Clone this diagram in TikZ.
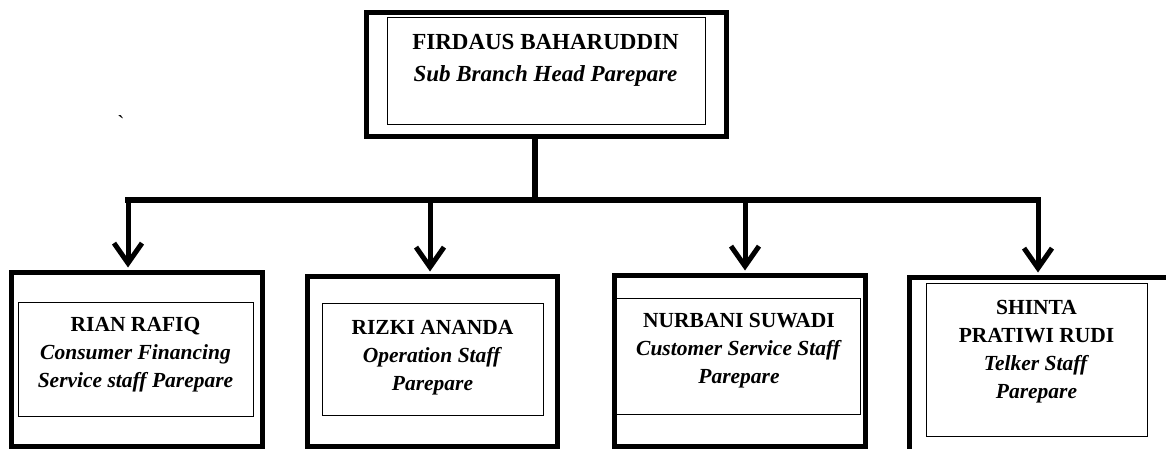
\documentclass[tikz,border=0pt]{standalone}
\usepackage{fontspec}
\setmainfont{Liberation Serif}
\usepackage{tikz}
\usetikzlibrary{arrows.meta}
\tikzset{outer box/.style={draw, line width=5pt, inner sep=0pt}, inner box/.style={draw, line width=1pt, inner sep=0pt}, head text/.style={anchor=north, inner sep=0pt, align=center, font=\fontsize{23}{32}\selectfont\bfseries}, staff text/.style={anchor=north, inner sep=0pt, align=center, font=\fontsize{21.5}{28}\selectfont\bfseries}, link/.style={line width=5.5pt, line cap=rect}, drop/.style={line width=5pt, shorten >=2.5pt, -{Straight Barb[length=20pt, width=28pt, line width=5pt]}}}

\begin{document}
\begin{tikzpicture}[x=1pt,y=-1pt]
\useasboundingbox (0,0) rectangle (1166,449);
\clip (0,0) rectangle (1166,449);
% sub branch head
\node[outer box, minimum width=360pt, minimum height=124pt] (head) at (546.5,74.5) {};
\node[inner box, minimum width=318pt, minimum height=107pt] (headin) at (546,71.5) {};
\node[head text] (headtxt) at (545.5,34.5) {FIRDAUS BAHARUDDIN\\\textit{Sub Branch Head Parepare}};
\node[font=\fontsize{21.5}{28}\selectfont, inner sep=0pt] (tick) at (121,123) {\textasciigrave};
% staff
\node[outer box, minimum width=251pt, minimum height=174pt] (s1) at (137,359.5) {};
\node[inner box, minimum width=235pt, minimum height=114pt] (s1in) at (135.5,359) {};
\node[staff text] (s1txt) at (135.5,316.7) {RIAN RAFIQ\\\textit{Consumer Financing}\\\textit{Service staff Parepare}};
\node[outer box, minimum width=250pt, minimum height=170pt] (s2) at (432.5,361.5) {};
\node[inner box, minimum width=221pt, minimum height=112pt] (s2in) at (432.5,359) {};
\node[staff text] (s2txt) at (432.5,320) {RIZKI ANANDA\\\textit{Operation Staff}\\\textit{Parepare}};
\node[outer box, minimum width=251pt, minimum height=171pt] (s3) at (740,361) {};
\node[inner box, minimum width=244pt, minimum height=116pt] (s3in) at (738,356) {};
\node[staff text] (s3txt) at (739,313.3) {NURBANI SUWADI\\\textit{Customer Service Staff}\\\textit{Parepare}};
\node[outer box, minimum width=260pt, minimum height=180pt] (s4) at (1039.5,367.5) {};
\node[inner box, minimum width=221pt, minimum height=153pt] (s4in) at (1036.5,359.5) {};
\node[staff text] (s4txt) at (1036.5,300) {SHINTA\\PRATIWI RUDI\\\textit{Telker Staff}\\\textit{Parepare}};
% lines
\coordinate (fork) at (535,200);
\coordinate (d1) at (128,200);
\coordinate (d2) at (430,200);
\coordinate (d3) at (745,200);
\coordinate (d4) at (1038,200);
\draw[link] (head.south -| fork) -- (fork);
\draw[link] (d1) -- (d4);
\draw[drop] (d1) -- (d1 |- s1.north);
\draw[drop] (d2) -- (d2 |- s2.north);
\draw[drop] (d3) -- (d3 |- s3.north);
\draw[drop] (d4) -- (d4 |- s4.north);
\end{tikzpicture}
\end{document}
